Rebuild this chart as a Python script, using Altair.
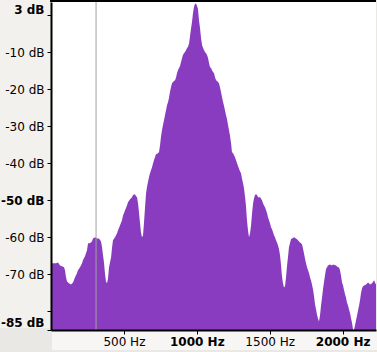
import altair as alt
import pandas as pd

# Spectrum (frequency in Hz, level in dB)
FREQ_HZ = [0, 7, 21, 34, 48, 62, 75, 89, 96, 103, 110, 123, 137, 151, 165, 178, 185, 199, 213, 219,
           233, 247, 254, 267, 281, 288, 302, 316, 329, 343, 350, 357, 364, 370, 377, 384, 391, 398,
           412, 418, 425, 439, 453, 460, 473, 487, 494, 508, 521, 528, 542, 556, 562, 576, 583, 590,
           597, 604, 610, 617, 624, 631, 638, 645, 652, 658, 665, 672, 679, 686, 693, 700, 706, 713,
           720, 734, 741, 748, 754, 761, 768, 775, 782, 789, 796, 803, 809, 816, 823, 830, 837, 844,
           851, 858, 864, 871, 878, 885, 892, 899, 905, 912, 919, 926, 933, 940, 947, 953, 960, 967,
           974, 981, 988, 995, 1002, 1008, 1015, 1022, 1029, 1036, 1043, 1050, 1056, 1063, 1070, 1077,
           1084, 1091, 1098, 1104, 1111, 1118, 1125, 1132, 1139, 1145, 1152, 1159, 1166, 1173, 1180,
           1187, 1193, 1200, 1207, 1214, 1221, 1228, 1235, 1241, 1248, 1255, 1262, 1269, 1276, 1283,
           1289, 1296, 1303, 1310, 1317, 1324, 1331, 1337, 1344, 1351, 1358, 1365, 1372, 1379, 1386,
           1392, 1399, 1406, 1413, 1420, 1434, 1440, 1447, 1454, 1461, 1468, 1475, 1482, 1488, 1495,
           1502, 1509, 1516, 1523, 1530, 1536, 1543, 1550, 1557, 1564, 1571, 1578, 1584, 1591, 1598,
           1605, 1612, 1619, 1626, 1632, 1639, 1646, 1653, 1667, 1680, 1687, 1694, 1701, 1708, 1715,
           1722, 1728, 1735, 1742, 1749, 1756, 1763, 1770, 1776, 1783, 1790, 1797, 1804, 1811, 1818,
           1824, 1831, 1838, 1845, 1852, 1859, 1866, 1872, 1879, 1886, 1893, 1900, 1914, 1927, 1934,
           1955, 1968, 1975, 1982, 1989, 1996, 2003, 2010, 2017, 2023, 2030, 2037, 2044, 2051, 2058,
           2065, 2072, 2078, 2085, 2092, 2099, 2106, 2113, 2120, 2126, 2133, 2140, 2147, 2161, 2174,
           2181, 2188, 2202, 2216, 2222, 2229]

LEVEL_DB = [-67.0, -67.0, -67.0, -67.0, -66.8, -67.6, -67.8, -68.1, -68.9, -70.8, -71.9, -72.4, -72.7,
            -72.2, -70.8, -69.7, -68.9, -68.1, -67.0, -66.2, -65.1, -63.5, -61.6, -61.6, -61.1, -60.3,
            -60.0, -60.3, -60.3, -61.1, -62.7, -64.9, -67.0, -69.7, -71.9, -72.4, -71.1, -68.1, -65.4,
            -63.0, -60.8, -60.0, -58.9, -58.1, -56.8, -55.4, -54.1, -52.7, -51.4, -50.5, -49.7, -49.2,
            -48.6, -48.4, -48.9, -49.2, -50.8, -53.5, -55.9, -58.6, -60.0, -59.5, -55.9, -51.9, -48.1,
            -46.5, -45.1, -43.8, -42.7, -41.9, -41.1, -40.0, -39.2, -38.4, -37.6, -37.3, -37.0, -35.1,
            -33.0, -31.1, -29.7, -28.4, -27.0, -25.7, -24.3, -23.5, -22.4, -20.8, -19.5, -18.4, -18.1,
            -17.8, -17.6, -16.8, -15.7, -14.9, -14.3, -13.8, -12.7, -11.6, -10.8, -10.3, -10.0, -9.5,
            -8.9, -8.6, -7.6, -5.9, -3.8, -1.9, 0.5, 2.2, 3.0, 3.0, 2.4, 1.6, -1.4, -3.5, -6.2, -8.1,
            -8.9, -9.5, -10.0, -10.3, -10.8, -11.6, -13.0, -14.1, -14.3, -14.9, -15.4, -15.7, -16.8,
            -17.6, -17.8, -18.1, -18.4, -19.5, -20.8, -22.2, -23.5, -24.6, -25.7, -27.0, -28.1, -29.7,
            -31.1, -32.7, -34.6, -37.0, -37.3, -37.8, -38.4, -39.2, -40.0, -40.8, -41.4, -42.2, -42.7,
            -44.1, -45.4, -46.8, -49.2, -51.4, -55.4, -58.1, -60.0, -58.9, -56.8, -53.5, -50.8, -49.5,
            -48.6, -48.4, -48.6, -49.2, -49.2, -49.5, -50.0, -50.8, -51.4, -51.9, -52.7, -53.5, -54.6,
            -55.4, -56.2, -57.3, -57.8, -58.6, -59.5, -60.0, -60.8, -61.4, -62.2, -63.2, -64.9, -67.6,
            -70.5, -72.4, -73.5, -73.2, -70.8, -67.6, -65.1, -62.7, -61.6, -60.5, -60.3, -60.0, -60.3,
            -60.5, -60.8, -61.1, -61.4, -61.6, -61.9, -63.0, -64.3, -65.7, -67.0, -68.1, -68.9, -69.7,
            -70.8, -71.6, -72.7, -74.1, -75.9, -78.1, -79.5, -80.8, -81.9, -82.7, -81.1, -78.4, -76.2,
            -73.8, -72.2, -70.3, -68.6, -68.1, -67.6, -67.3, -67.6, -67.3, -67.6, -68.1, -68.1, -68.9,
            -70.3, -72.2, -73.0, -74.3, -75.4, -76.2, -77.6, -78.4, -79.5, -80.5, -81.9, -83.2, -85.0,
            -85.0, -83.8, -82.4, -81.1, -79.7, -78.4, -76.8, -75.1, -73.8, -73.2, -73.0, -72.7, -72.2,
            -72.4, -72.7, -72.4, -71.6, -72.2, -72.7]

CURSOR_HZ = [309]
X_TICKS = [500, 1000, 1500, 2000]
Y_TICKS = [0, -10, -20, -30, -40, -50, -60, -70, -80, -85]

FREQ_MAX = 2229
DB_MIN, DB_MAX = -85, 3.5

df = pd.DataFrame({"freq": FREQ_HZ, "db": LEVEL_DB})
cursor_df = pd.DataFrame({"freq": CURSOR_HZ})

FONT = "DejaVu Sans"
W, H = 325, 328

x_scale = alt.Scale(domain=[0, FREQ_MAX], nice=False, zero=False)
y_scale = alt.Scale(domain=[DB_MIN, DB_MAX], nice=False, zero=False)

x_axis = alt.Axis(
    values=X_TICKS, title=None, grid=False,
    labelExpr="datum.value + ' Hz'",
    labelFont=FONT, labelFontSize=12, labelColor="black",
    labelFontWeight={"condition": {"test": "datum.value == 1000 || datum.value == 2000", "value": "bold"}, "value": "normal"},
    domainColor="black", domainWidth=2, tickColor="black", tickSize=4, tickWidth=1,
    labelPadding=2, labelOverlap=False, labelBound=False, labelFlush=False, zindex=1,
)
y_axis = alt.Axis(
    values=Y_TICKS, title=None, grid=False,
    labelExpr="datum.value == 0 ? '3 dB' : (datum.value == -80 ? '' : datum.value + ' dB')",
    labelFont=FONT, labelFontSize=12, labelColor="black",
    labelFontWeight={"condition": {"test": "datum.value == 0 || datum.value == -50 || datum.value == -85", "value": "bold"}, "value": "normal"},
    labelOffset={"condition": [{"test": "datum.value == 0", "value": -5},
                               {"test": "datum.value == -85", "value": -8}], "value": 0},
    domainColor="black", domainWidth=2, tickColor="black", tickSize=4, tickWidth=1,
    labelPadding=3, labelOverlap=False, labelBound=False, labelFlush=False, zindex=1,
)

one = alt.Data(values=[{"a": 1}])

left_panel = alt.Chart(one).mark_rect(color="#f2f1ee").encode(
    x=alt.value(-51), x2=alt.value(-1), y=alt.value(-2), y2=alt.value(326))
bottom_strip = alt.Chart(one).mark_rect(color="#f7f6f4").encode(
    x=alt.value(1), x2=alt.value(326), y=alt.value(329), y2=alt.value(348))

area = alt.Chart(df).mark_area(color="#893cbf", opacity=1, clip=True, interpolate="linear").encode(
    x=alt.X("freq:Q", scale=x_scale, axis=x_axis),
    y=alt.Y("db:Q", scale=y_scale, axis=y_axis),
    y2=alt.datum(DB_MIN),
)

cursor = alt.Chart(cursor_df).mark_rule(color="#a0a0a0", size=1).encode(
    x=alt.X("freq:Q", scale=x_scale),
)

top_line = alt.Chart(one).mark_rule(color="black", size=2).encode(
    x=alt.value(-1), x2=alt.value(W), y=alt.value(-1))

chart = alt.layer(left_panel, bottom_strip, area, cursor, top_line).properties(
    width=W, height=H,
    background="#e9e8e4",
    padding={"left": 51, "top": 2, "right": 1, "bottom": 22},
    autosize=alt.AutoSizeParams(type="none"),
).configure_view(fill="white", stroke=None)

chart.save("out.html", embed_options={"renderer": "svg", "actions": False})
